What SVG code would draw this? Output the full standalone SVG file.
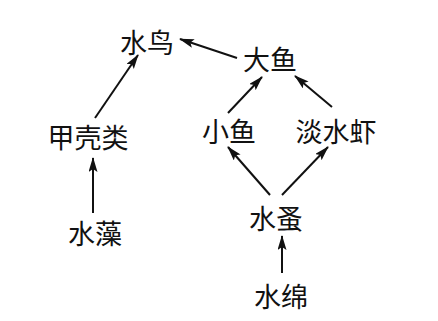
<svg xmlns="http://www.w3.org/2000/svg" width="438" height="321" viewBox="0 0 438 321">
<style>
text{font-family:"Noto Sans CJK SC","Noto Sans CJK JP",sans-serif;font-size:27px;fill:#111;text-anchor:middle}
line{stroke:#111;stroke-width:2;marker-end:url(#ah)}
</style>
<defs>
<marker id="ah" markerUnits="userSpaceOnUse" markerWidth="16" markerHeight="10" refX="14" refY="4.5" orient="auto">
<path d="M0,0 L15,4.5 L0,9 L3,4.5 Z" fill="#111"/>
</marker>
</defs>
<rect width="438" height="321" fill="#fff"/>
<g id="connectors">
<line x1="95" y1="118" x2="138" y2="55"/>
<line x1="237" y1="58" x2="180" y2="39"/>
<line x1="228" y1="113" x2="262" y2="77"/>
<line x1="332" y1="107" x2="295" y2="76"/>
<line x1="93" y1="213" x2="93" y2="158"/>
<line x1="270" y1="195" x2="228" y2="147"/>
<line x1="282" y1="195" x2="328" y2="147"/>
<line x1="282" y1="273" x2="282" y2="236"/>
</g>
<g id="shuiniao"><text x="147" y="53">水鸟</text></g>
<g id="jiaketlei"><text x="88" y="148">甲壳类</text></g>
<g id="dayu"><text x="270" y="70">大鱼</text></g>
<g id="xiaoyu"><text x="229" y="142">小鱼</text></g>
<g id="danshuixia"><text x="336" y="142">淡水虾</text></g>
<g id="shuizao"><text x="95" y="244">水藻</text></g>
<g id="shuizao2"><text x="276" y="229">水蚤</text></g>
<g id="shuimian"><text x="281" y="307">水绵</text></g>
</svg>
